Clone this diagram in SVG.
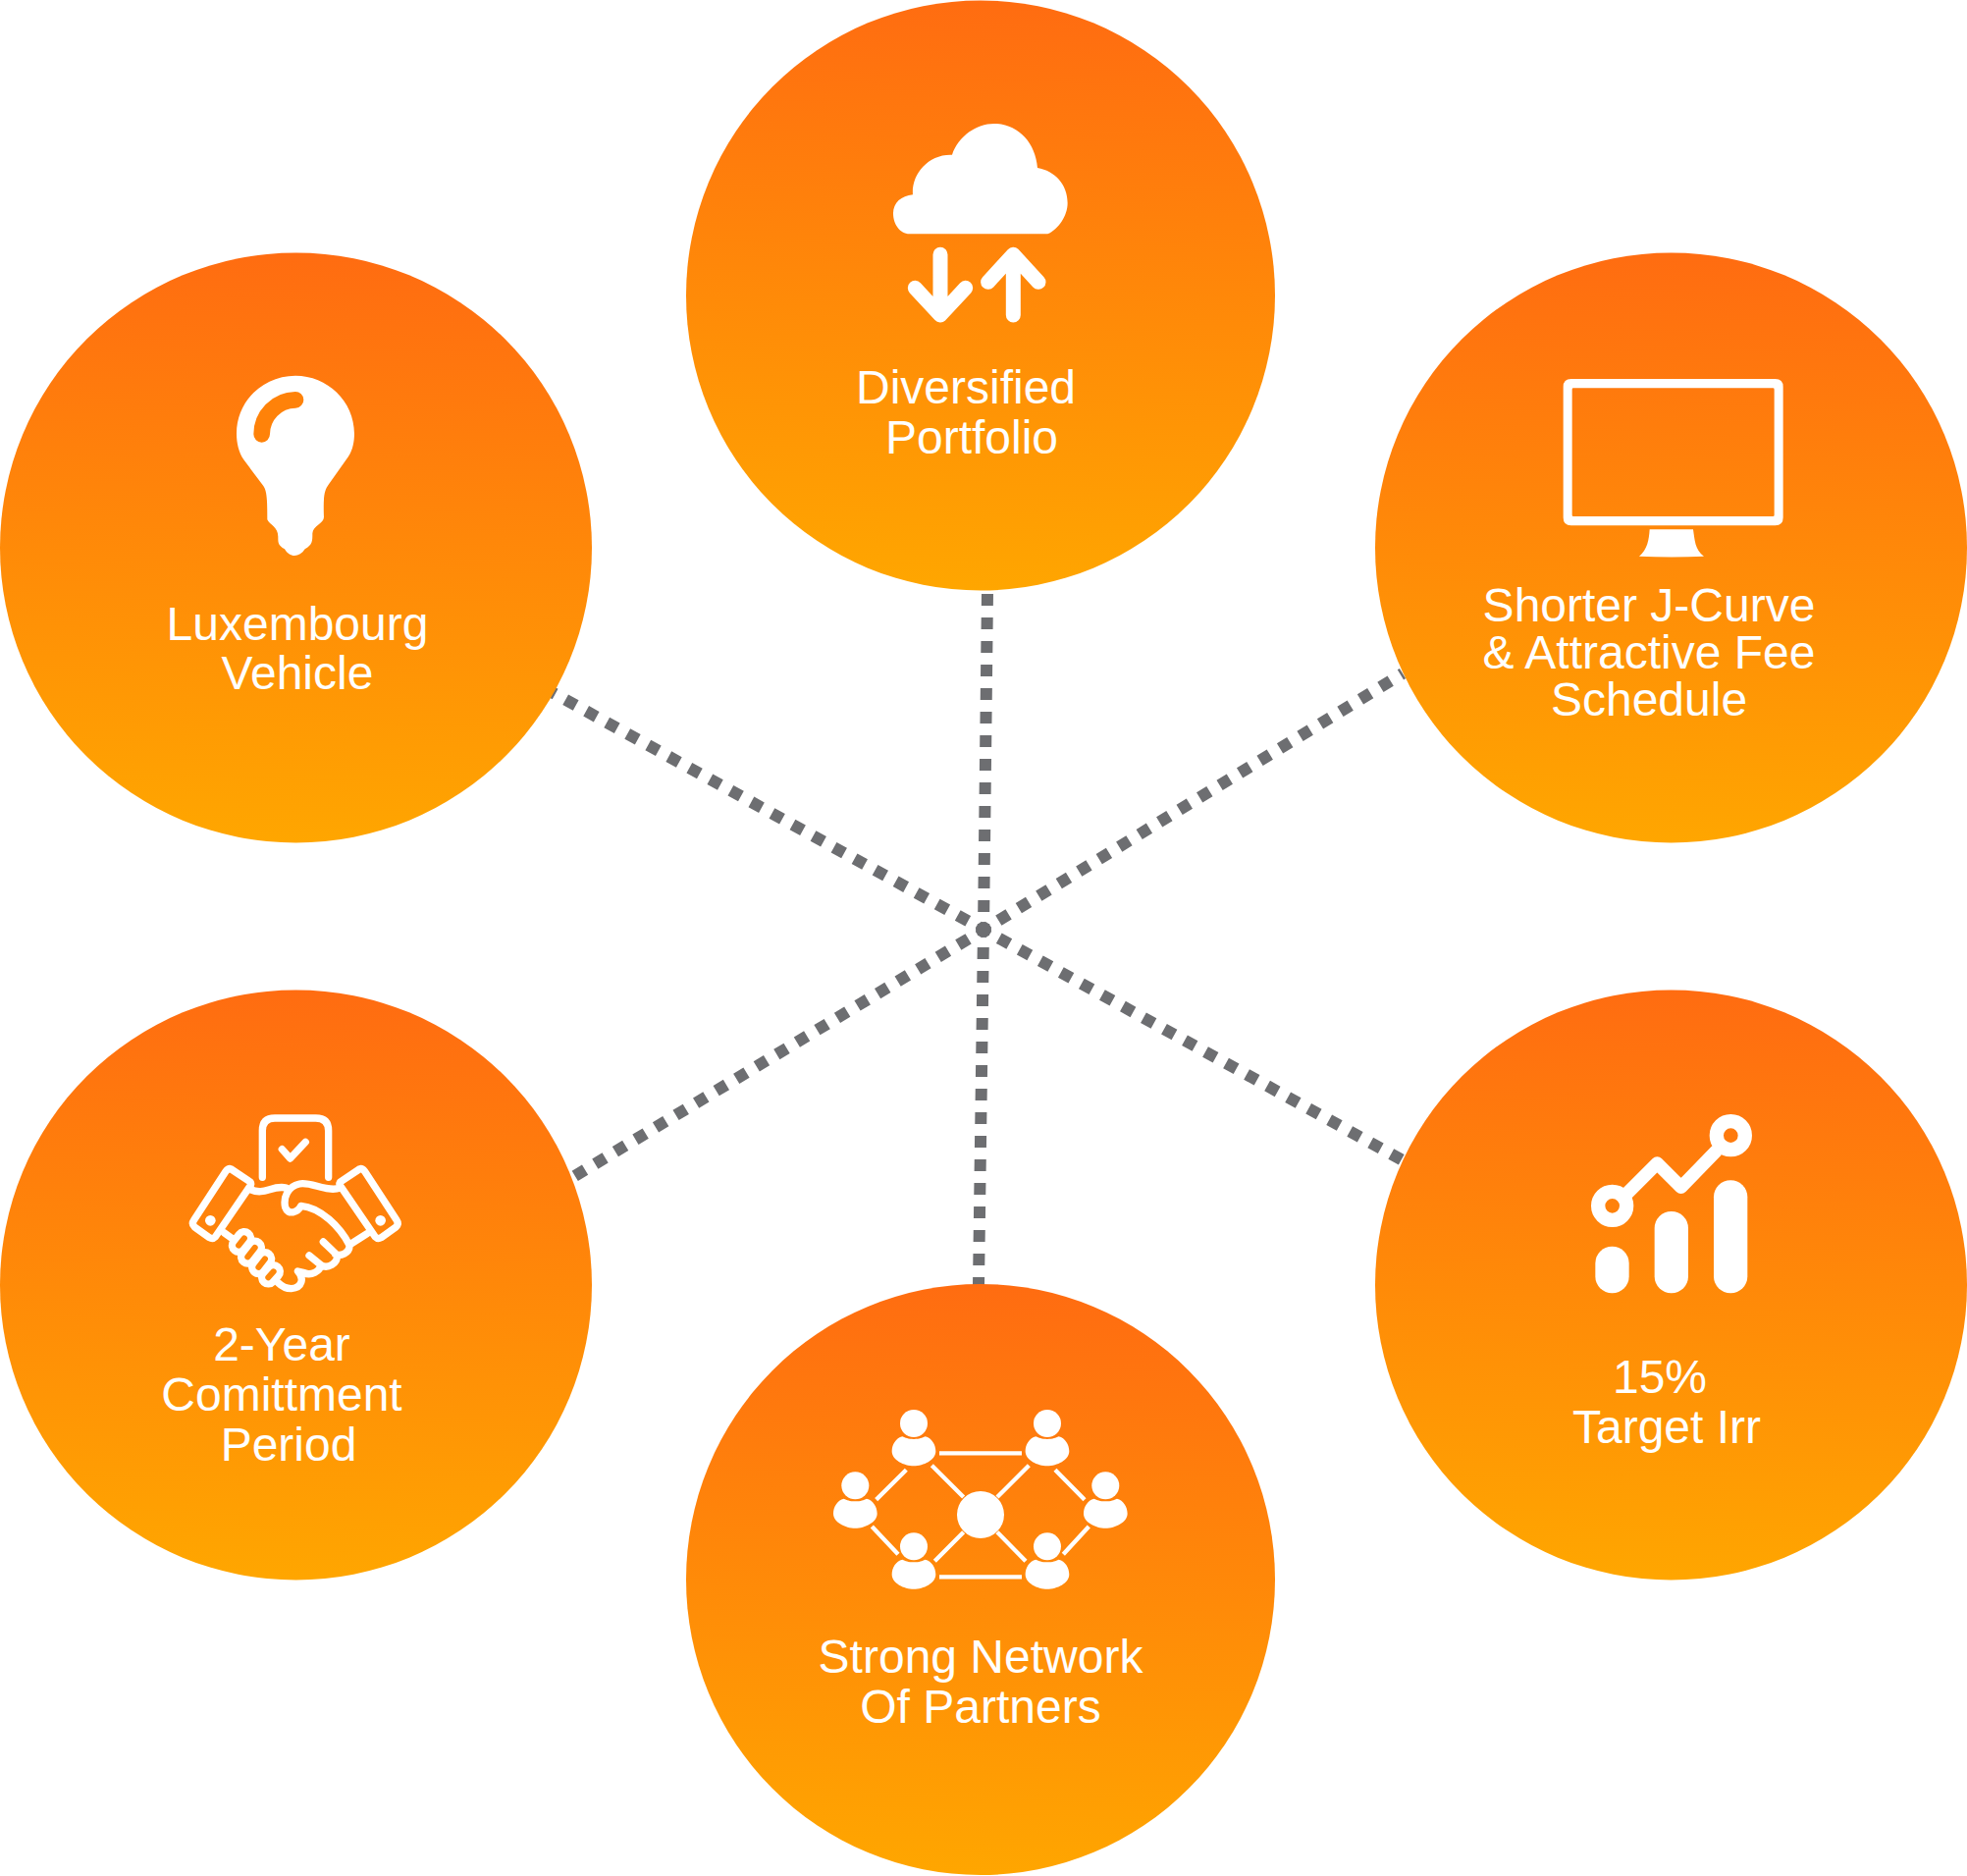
<svg xmlns="http://www.w3.org/2000/svg" width="2004" height="1911" viewBox="0 0 2004 1911">
<style>
text{font-family:"Liberation Sans",Arial,sans-serif;font-size:48px;fill:#fff;text-anchor:middle}
.c{fill:url(#g)}
.w{fill:#fff}
.s{fill:none;stroke:#fff;stroke-linecap:round;stroke-linejoin:round}
.d{fill:none;stroke:#6d6e71;stroke-width:12;stroke-dasharray:12 12;stroke-dashoffset:6}
</style>
<defs>
<linearGradient id="g" x1="0.53" y1="0" x2="0.48" y2="1"><stop offset="0" stop-color="#ff6c11"/><stop offset="1" stop-color="#ffa600"/></linearGradient>
<g id="p"><circle cx="0" cy="0" r="42" fill="#fff"/><path fill="#fff" d="M0 48C-18 48-25 44-35 40C-55 45-67 65-67 85C-67 112-30 130 0 130C30 130 67 112 67 85C67 65 55 45 35 40C25 44 18 48 0 48Z"/></g>
</defs>
<rect width="2004" height="1911" fill="#fff"/>
<g id="connectors">
<path class="d" d="M1002 947L1006 604"/>
<path class="d" d="M1002 947L997 1309"/>
<path class="d" d="M1002 947L562 705"/>
<path class="d" d="M1002 947L1429 1182"/>
<path class="d" d="M1002 947L1429 686"/>
<path class="d" d="M1002 947L584 1199"/>
<circle cx="1002" cy="947" r="8" fill="#6d6e71"/>
</g>
<g id="node-diversified">
<ellipse class="c" cx="999" cy="301" rx="300" ry="300.5"/>
<g transform="translate(860 100) scale(.3333)">
<path class="w" d="M200 415C170 415 150 385 150 352C150 320 175 298 210 295C205 235 255 170 330 173C350 115 405 78 458 78C530 78 585 135 591 213C645 222 683 265 683 320C683 360 655 400 622 415Z"/>
<path class="s" stroke-width="45" d="M294 478V660M217 580L294 663L371 580M517 663V480M440 562L517 478L594 562"/>
</g>
<text x="984" y="411">Diversified</text><text x="990" y="462">Portfolio</text>
</g>
<g id="node-luxembourg">
<ellipse class="c" cx="301.5" cy="558" rx="301.5" ry="300.5"/>
<g transform="translate(220 370) scale(.3333)">
<path class="w" d="M243 38C145 38 63 115 63 215C63 245 70 272 85 295L145 375C155 390 157 410 157 478C165 495 190 500 190 530C190 550 190 555 210 568C225 595 255 595 272 568C295 555 295 545 295 520C297 495 330 490 330 470C328 410 330 390 345 370L405 285C418 265 423 240 423 215C423 115 340 38 243 38Z"/>
<path fill="none" stroke="#ff8209" stroke-width="50" stroke-linecap="round" d="M140 217C140 160 185 113 243 112"/>
</g>
<text x="303" y="652">Luxembourg</text><text x="303" y="702">Vehicle</text>
</g>
<g id="node-jcurve">
<ellipse class="c" cx="1702.5" cy="558" rx="301.5" ry="300.5"/>
<g transform="translate(1570 370) scale(.3333)">
<path class="w" fill-rule="evenodd" d="M92 48H716Q740 48 740 72V472Q740 496 716 496H92Q68 496 68 472V72Q68 48 92 48ZM99 76Q95 76 95 80V464Q95 468 99 468H709Q713 468 713 464V80Q713 76 709 76Z"/>
<path class="w" d="M332 508H465C470 540 470 570 498 590Q400 595 300 590C325 570 330 540 332 508Z"/>
</g>
<text x="1680" y="633">Shorter J-Curve</text><text x="1680" y="681">&amp; Attractive Fee</text><text x="1680" y="729">Schedule</text>
</g>
<g id="node-commitment">
<ellipse class="c" cx="301.5" cy="1309" rx="301.5" ry="300.5"/>
<g transform="translate(170 1110) scale(.3333)">
<g class="s" stroke-width="22">
<path d="M292 268V125Q292 87 330 87H455Q494 87 494 125V268"/>
<path d="M352 182L377 210L424 160"/>
<path d="M195 242L255 282Q260 290 252 298L148 450Q140 458 130 452L85 420Q75 410 82 400L180 250Q188 240 195 242Z"/>
<path d="M590 242L530 282Q525 290 533 298L637 450Q645 458 655 452L700 420Q710 410 703 400L605 250Q597 240 590 242Z"/>
<path d="M255 305C300 325 320 290 365 300M530 300C490 315 440 280 405 288C370 295 355 330 362 360C370 385 400 375 410 355C470 360 530 420 558 475C560 500 530 510 515 503M478 465L520 505C525 530 490 550 470 535L435 507M470 535C470 555 440 570 420 560L400 555C420 575 415 605 380 608C360 608 350 600 340 590M565 470L612 440M175 437L200 455"/>
<rect x="-34" y="-20" width="68" height="40" rx="20" transform="translate(228 465) rotate(-52)"/>
<rect x="-38" y="-20" width="76" height="40" rx="20" transform="translate(258 497) rotate(-52)"/>
<rect x="-36" y="-20" width="72" height="40" rx="20" transform="translate(290 530) rotate(-52)"/>
<rect x="-32" y="-20" width="64" height="40" rx="20" transform="translate(318 565) rotate(-48)"/>
</g>
<circle class="w" cx="133" cy="400" r="16"/><circle class="w" cx="653" cy="400" r="16"/>
</g>
<text x="287" y="1386">2-Year</text><text x="287" y="1437">Comittment</text><text x="294" y="1488">Period</text>
</g>
<g id="node-irr">
<ellipse class="c" cx="1702.5" cy="1309" rx="301.5" ry="300.5"/>
<g transform="translate(1600 1120) scale(.3333)">
<circle cx="128" cy="325" r="43.5" fill="none" stroke="#fff" stroke-width="43"/>
<circle cx="490" cy="110" r="43.5" fill="none" stroke="#fff" stroke-width="43"/>
<path class="s" stroke-width="40" d="M175 285L265 195L338 268L445 158"/>
<rect class="w" x="76" y="449" width="103" height="143" rx="51"/>
<rect class="w" x="257" y="342" width="103" height="250" rx="51"/>
<rect class="w" x="438" y="247" width="103" height="345" rx="51"/>
</g>
<text x="1691" y="1419">15%</text><text x="1698" y="1470">Target Irr</text>
</g>
<g id="node-network">
<ellipse class="c" cx="999" cy="1609" rx="300" ry="301"/>
<g transform="translate(830 1410) scale(.3333)">
<use href="#p" x="303" y="120"/><use href="#p" x="711" y="120"/><use href="#p" x="124" y="310"/><use href="#p" x="889" y="310"/><use href="#p" x="303" y="496"/><use href="#p" x="711" y="496"/>
<circle class="w" cx="507" cy="399" r="72"/>
<path fill="none" stroke="#fff" stroke-width="13" d="M381 211H633M381 589H633M280 262L188 353M175 435L255 520M358 248L455 345M655 248L558 345M735 262L825 353M838 435L760 520M455 452L367 541M558 452L645 541"/>
</g>
<text x="999" y="1704">Strong Network</text><text x="999" y="1755">Of Partners</text>
</g>
</svg>
